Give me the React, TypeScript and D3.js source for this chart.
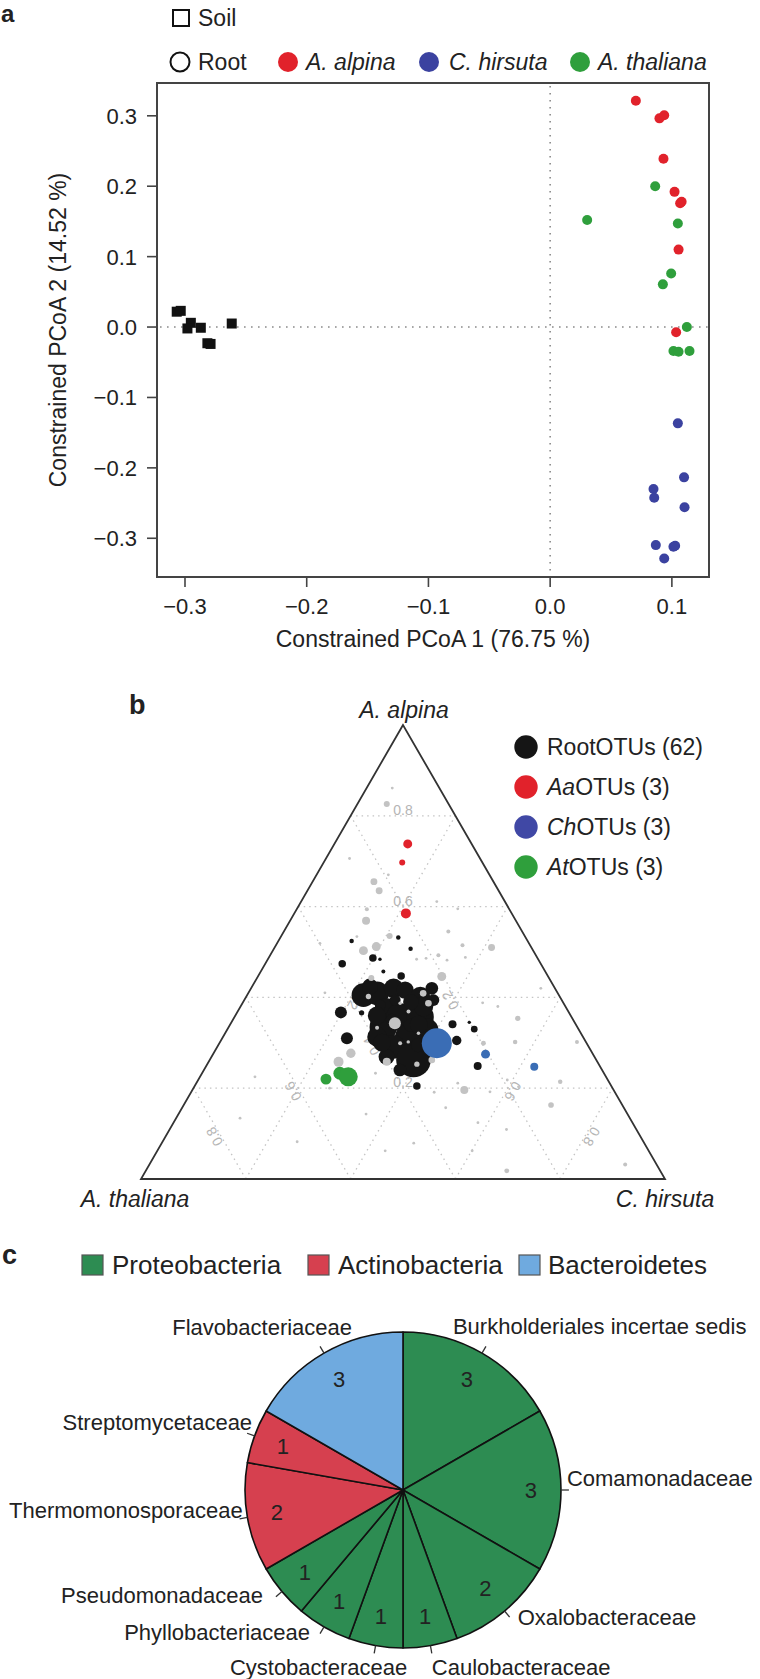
import React from "react";
import * as d3 from "d3";

const FONT = '"Liberation Sans", Arial, Helvetica, sans-serif';

// ---------- Panel a: constrained PCoA ----------
const soilPC1 = [-0.3068, -0.3035, -0.2952, -0.298, -0.287, -0.2816, -0.279, -0.2616];
const soilPC2 = [0.0218, 0.023, 0.006, -0.002, -0.001, -0.023, -0.024, 0.005];
const alpinaPC1 = [0.0704, 0.0898, 0.0937, 0.0931, 0.1022, 0.1068, 0.108, 0.1055, 0.1035];
const alpinaPC2 = [0.3215, 0.2964, 0.3007, 0.239, 0.192, 0.1757, 0.178, 0.11, -0.0075];
const thalianaPC1 = [0.0863, 0.0304, 0.1049, 0.0994, 0.0926, 0.1123, 0.1013, 0.1055, 0.1145];
const thalianaPC2 = [0.2, 0.152, 0.147, 0.076, 0.0606, 0.0, -0.034, -0.035, -0.034];
const hirsutaPC1 = [0.1049, 0.11, 0.0849, 0.0855, 0.1104, 0.0868, 0.1013, 0.1027, 0.0937];
const hirsutaPC2 = [-0.1368, -0.2135, -0.23, -0.2425, -0.256, -0.3097, -0.312, -0.3107, -0.3286];
const xTicks = [-0.3, -0.2, -0.1, 0.0, 0.1];
const yTicks = [-0.3, -0.2, -0.1, 0.0, 0.1, 0.2, 0.3];
const xLabelA = "Constrained PCoA 1 (76.75 %)";
const yLabelA = "Constrained PCoA 2 (14.52 %)";

// ---------- Panel b: ternary plot, [alpina share, hirsuta share, abundance] ----------
const gridValues = [0.2, 0.4, 0.6, 0.8];
const blackOTUs = [
  [0.524, 0.14, 0.5], [0.532, 0.225, 0.5], [0.507, 0.261, 0.5], [0.487, 0.199, 1.4],
  [0.484, 0.214, 0.3], [0.474, 0.147, 1.4], [0.457, 0.234, 0.4], [0.447, 0.273, 1.4],
  [0.367, 0.198, 3.6], [0.31, 0.238, 3.6], [0.366, 0.238, 0.7], [0.341, 0.424, 1.6],
  [0.345, 0.454, 0.3], [0.33, 0.471, 1.1], [0.305, 0.45, 2.2], [0.249, 0.518, 1.6],
  [0.205, 0.424, 1.4], [0.405, 0.222, 14], [0.409, 0.246, 14], [0.42, 0.272, 9.6],
  [0.416, 0.296, 7.4], [0.402, 0.332, 9.6], [0.42, 0.345, 4], [0.394, 0.361, 3.5],
  [0.372, 0.283, 14], [0.335, 0.295, 19], [0.357, 0.316, 19], [0.357, 0.354, 19],
  [0.328, 0.381, 14], [0.313, 0.351, 14], [0.291, 0.336, 14], [0.262, 0.389, 30],
  [0.313, 0.294, 9.6], [0.269, 0.334, 6.3], [0.38, 0.349, 9.6], [0.424, 0.225, 6.3],
  [0.394, 0.288, 3], [0.339, 0.344, 4], [0.295, 0.381, 5], [0.295, 0.404, 4],
  [0.383, 0.265, 3], [0.24, 0.374, 4], [0.35, 0.304, 4], [0.36, 0.27, 8],
  [0.3, 0.31, 8], [0.34, 0.36, 8], [0.39, 0.32, 6],
];
const grayOTUs = [
  [0.861, 0.049, 0.2], [0.826, 0.056, 0.9], [0.706, 0.045, 0.2], [0.67, 0.137, 0.2],
  [0.655, 0.117, 1.2], [0.635, 0.137, 1.2], [0.611, 0.259, 0.2], [0.595, 0.307, 0.2],
  [0.594, 0.134, 0.4], [0.569, 0.145, 1.6], [0.545, 0.314, 0.4], [0.535, 0.207, 0.9],
  [0.519, 0.082, 0.2], [0.534, 0.145, 0.2], [0.515, 0.356, 0.4], [0.51, 0.414, 1.2],
  [0.503, 0.173, 2.0], [0.512, 0.193, 2.0], [0.493, 0.321, 0.4], [0.486, 0.301, 0.2],
  [0.484, 0.284, 0.2], [0.488, 0.375, 0.2], [0.446, 0.351, 2.0], [0.443, 0.218, 0.9],
  [0.343, 0.313, 3.6], [0.402, 0.233, 0.7], [0.387, 0.301, 0.3], [0.369, 0.326, 0.4],
  [0.321, 0.369, 0.3], [0.299, 0.345, 0.4], [0.302, 0.359, 0.3], [0.253, 0.4, 0.7],
  [0.258, 0.34, 1.6], [0.262, 0.424, 1.1], [0.387, 0.355, 1.1], [0.409, 0.334, 1.1],
  [0.333, 0.284, 0.4], [0.277, 0.262, 2.2], [0.258, 0.248, 2.5], [0.196, 0.519, 1.6],
  [0.299, 0.504, 0.6], [0.302, 0.681, 0.4], [0.214, 0.693, 0.5], [0.163, 0.701, 0.8],
  [0.354, 0.542, 0.7], [0.225, 0.105, 0.2], [0.2, 0.26, 0.2], [0.143, 0.358, 0.2],
  [0.233, 0.331, 0.2], [0.191, 0.464, 0.2], [0.157, 0.503, 0.2], [0.211, 0.499, 0.2],
  [0.109, 0.643, 0.2], [0.124, 0.581, 0.2], [0.018, 0.689, 0.6], [0.032, 0.908, 0.4],
  [0.062, 0.601, 0.2], [0.079, 0.481, 0.2], [0.062, 0.435, 0.2], [0.082, 0.257, 0.2],
  [0.134, 0.122, 0.2], [0.203, 0.619, 0.2], [0.192, 0.57, 0.2], [0.388, 0.458, 0.2],
  [0.38, 0.491, 0.2], [0.42, 0.553, 0.2], [0.41, 0.146, 0.2], [0.482, 0.343, 0.2],
  [0.218, 0.59, 0.2], [0.302, 0.563, 0.5],
];
const aaOTUs = [[0.738, 0.14, 2.0], [0.697, 0.15, 0.9], [0.585, 0.213, 2.5]];
const chOTUs = [[0.299, 0.415, 22.5], [0.275, 0.52, 2.0], [0.247, 0.627, 1.6]];
const atOTUs = [[0.22, 0.243, 3.0], [0.233, 0.263, 4.2], [0.225, 0.283, 9.0]];

// ---------- Panel c: pie ----------
const families = [
  "Burkholderiales incertae sedis", "Comamonadaceae", "Oxalobacteraceae", "Caulobacteraceae",
  "Cystobacteraceae", "Phyllobacteriaceae", "Pseudomonadaceae", "Thermomonosporaceae",
  "Streptomycetaceae", "Flavobacteriaceae",
];
const familyCounts = [3, 3, 2, 1, 1, 1, 1, 2, 1, 3];
const familyPhyla = [
  "Proteobacteria", "Proteobacteria", "Proteobacteria", "Proteobacteria", "Proteobacteria",
  "Proteobacteria", "Proteobacteria", "Actinobacteria", "Actinobacteria", "Bacteroidetes",
];
const phyla = ["Proteobacteria", "Actinobacteria", "Bacteroidetes"];

// ---------- layout / style ----------
const C_RED = "#e1222b";
const C_BLUE_A = "#3b42a0";
const C_GREEN = "#2f9f3c";
const C_BLUE_B = "#3a6db5";
const phylumColor = d3.scaleOrdinal<string, string>().domain(phyla).range(["#2d8c52", "#d6404f", "#6faadf"]);
// label layout for pie: [anchor, dx, dy] relative to tick end
const pieLabelLayout: [string, number, number][] = [
  ["start", -33, -20], ["start", -2, -12], ["start", 8, 0], ["start", 0, 14], ["end", 33, 14],
  ["end", -10, -2], ["end", -13, -2], ["end", 3, -9], ["end", 5, -11], ["end", 32, -19],
];

export default function App() {
  // panel a scales
  const xA = d3.scaleLinear().domain([-0.323, 0.1305]).range([157, 709]);
  const yA = d3.scaleLinear().domain([-0.355, 0.3466]).range([577, 83]);
  const [x0, x1] = xA.range();
  const [yb, yt] = yA.range();
  const fmt = (v: number) => (v < 0 ? "\u2212" : "") + Math.abs(v).toFixed(1);

  // ternary scales
  const yTern = d3.scaleLinear().domain([0, 1]).range([1179, 725]);
  const xTern = d3.scaleLinear().domain([-1, 1]).range([141, 665]);
  const tern = (a: number, h: number): [number, number] => {
    const t = 1 - a - h;
    return [xTern(h - t), yTern(a)];
  };
  const rScale = d3.scaleSqrt().domain([0, 25.6]).range([0, 16]);
  const apex = tern(1, 0), bl = tern(0, 0), br = tern(0, 1);

  // pie
  const cx = 403, cy = 1490, R = 158;
  const pie = d3.pie<number>().sort(null).value((d) => d)(familyCounts);
  const arc = d3.arc<d3.PieArcDatum<number>>().innerRadius(0).outerRadius(R);

  const dots = (data: number[][], color: string, key: string) =>
    data.map((d, i) => {
      const [px, py] = tern(d[0], d[1]);
      return <circle key={key + i} cx={px} cy={py} r={rScale(d[2])} fill={color} />;
    });

  const textStyle = { fontFamily: FONT, fill: "#222" } as const;

  const legendA = [
    { label: "A. alpina", color: C_RED, cx: 288, tx: 306 },
    { label: "C. hirsuta", color: C_BLUE_A, cx: 429, tx: 449 },
    { label: "A. thaliana", color: C_GREEN, cx: 580, tx: 598 },
  ];

  const legendB = [
    { pre: "Root", it: "", color: "#151515", n: 62 },
    { pre: "", it: "Aa", color: C_RED, n: 3 },
    { pre: "", it: "Ch", color: "#4048a5", n: 3 },
    { pre: "", it: "At", color: C_GREEN, n: 3 },
  ];

  const legendC = [
    { x: 82, tx: 112 },
    { x: 308, tx: 338 },
    { x: 519, tx: 548 },
  ];

  return (
    <svg width={760} height={1679} style={{ position: "absolute", left: 0, top: 0, background: "#fff" }}>
      <rect x={0} y={0} width={760} height={1679} fill="#fff" />
      {/* ===== Panel a ===== */}
      <text x={1} y={22} fontSize={24} fontWeight="bold" {...textStyle}>a</text>
      <rect x={173} y={10} width={16} height={16} fill="#fff" stroke="#111" strokeWidth={2} />
      <text x={198} y={26} fontSize={23} {...textStyle}>Soil</text>
      <circle cx={180} cy={62} r={9.5} fill="#fff" stroke="#111" strokeWidth={2} />
      <text x={198} y={70} fontSize={23} {...textStyle}>Root</text>
      {legendA.map((l) => (
        <g key={l.label}>
          <circle cx={l.cx} cy={62} r={10} fill={l.color} />
          <text x={l.tx} y={70} fontSize={23} fontStyle="italic" {...textStyle}>{l.label}</text>
        </g>
      ))}

      {/* reference lines */}
      <line x1={xA(0)} x2={xA(0)} y1={yt + 3} y2={yb - 3} stroke="#8a8a8a" strokeWidth={1.6} strokeDasharray="1.6 5.4" />
      <line x1={x0 + 3} x2={x1} y1={yA(0)} y2={yA(0)} stroke="#8a8a8a" strokeWidth={1.6} strokeDasharray="1.6 5.4" />

      {/* points */}
      {soilPC1.map((v, i) => (
        <rect key={"s" + i} x={xA(v) - 5} y={yA(soilPC2[i]) - 5} width={10} height={10} fill="#111" />
      ))}
      {alpinaPC1.map((v, i) => <circle key={"al" + i} cx={xA(v)} cy={yA(alpinaPC2[i])} r={5} fill={C_RED} />)}
      {hirsutaPC1.map((v, i) => <circle key={"hi" + i} cx={xA(v)} cy={yA(hirsutaPC2[i])} r={5} fill={C_BLUE_A} />)}
      {thalianaPC1.map((v, i) => <circle key={"th" + i} cx={xA(v)} cy={yA(thalianaPC2[i])} r={5} fill={C_GREEN} />)}

      {/* frame and axes */}
      <rect x={x0} y={yt} width={x1 - x0} height={yb - yt} fill="none" stroke="#444" strokeWidth={2} />
      {xTicks.map((t) => (
        <g key={"xt" + t}>
          <line x1={xA(t)} x2={xA(t)} y1={yb} y2={yb + 10} stroke="#444" strokeWidth={1.6} />
          <text x={xA(t)} y={614} fontSize={22} textAnchor="middle" {...textStyle}>{fmt(t)}</text>
        </g>
      ))}
      {yTicks.map((t) => (
        <g key={"yt" + t}>
          <line x1={x0 - 10} x2={x0} y1={yA(t)} y2={yA(t)} stroke="#444" strokeWidth={1.6} />
          <text x={137} y={yA(t) + 8} fontSize={22} textAnchor="end" {...textStyle}>{fmt(t)}</text>
        </g>
      ))}
      <text x={(x0 + x1) / 2} y={647} fontSize={23} textAnchor="middle" {...textStyle}>{xLabelA}</text>
      <text transform={`translate(66,${(yt + yb) / 2}) rotate(-90)`} fontSize={23} textAnchor="middle" {...textStyle}>{yLabelA}</text>

      {/* ===== Panel b ===== */}
      <text x={129} y={714} fontSize={27} fontWeight="bold" {...textStyle}>b</text>
      {/* grid */}
      {gridValues.map((v) => {
        const lines: [[number, number], [number, number]][] = [
          [tern(v, 0), tern(v, 1 - v)],
          [tern(0, 1 - v), tern(1 - v, 0)],
          [tern(0, v), tern(1 - v, v)],
        ];
        return lines.map((ln, j) => (
          <line key={"g" + v + j} x1={ln[0][0]} y1={ln[0][1]} x2={ln[1][0]} y2={ln[1][1]}
            stroke="#c4c4c4" strokeWidth={1.3} strokeDasharray="1.5 4" />
        ));
      })}
      {gridValues.map((v) => {
        const m = (1 - v) / 2;
        const pos: [[number, number], number][] = [
          [tern(v, m), 0],
          [tern(m, m), -120],
          [tern(m, v), 120],
        ];
        return pos.map(([p, rot], j) => (
          <text key={"gl" + v + j} transform={`translate(${p[0]},${p[1]}) rotate(${rot})`} y={-1}
            fontSize={14} textAnchor="middle" fill="#b5b5b5" fontFamily={FONT}>{v.toFixed(1)}</text>
        ));
      })}
      {/* triangle */}
      <path d={`M${apex[0]},${apex[1]}L${bl[0]},${bl[1]}L${br[0]},${br[1]}Z`} fill="none" stroke="#333" strokeWidth={1.8} strokeLinejoin="miter" />
      <text x={apex[0] + 1} y={718} fontSize={23} fontStyle="italic" textAnchor="middle" {...textStyle}>A. alpina</text>
      <text x={bl[0] - 6} y={1207} fontSize={23} fontStyle="italic" textAnchor="middle" {...textStyle}>A. thaliana</text>
      <text x={br[0]} y={1207} fontSize={23} fontStyle="italic" textAnchor="middle" {...textStyle}>C. hirsuta</text>

      {/* OTU points */}
      {dots(blackOTUs, "#151515", "bk")}
      {dots(grayOTUs, "#c3c3c3", "gy")}
      {dots(aaOTUs, C_RED, "aa")}
      {dots(chOTUs, C_BLUE_B, "ch")}
      {dots(atOTUs, C_GREEN, "at")}

      {/* legend b */}
      {legendB.map((l, i) => (
        <g key={"lb" + i}>
          <circle cx={526} cy={747 + i * 40} r={11.7} fill={l.color} />
          <text x={547} y={755 + i * 40} fontSize={23} {...textStyle}>
            {l.pre}
            {l.it && <tspan fontStyle="italic">{l.it}</tspan>}
            {`OTUs (${l.n})`}
          </text>
        </g>
      ))}

      {/* ===== Panel c ===== */}
      <text x={2} y={1264} fontSize={27} fontWeight="bold" {...textStyle}>c</text>
      {phyla.map((p, i) => (
        <g key={"lc" + p}>
          <rect x={legendC[i].x} y={1255} width={21} height={20} fill={phylumColor(p)} stroke="#555" strokeWidth={1.2} />
          <text x={legendC[i].tx} y={1274} fontSize={26} {...textStyle}>{p}</text>
        </g>
      ))}
      <g transform={`translate(${cx},${cy})`}>
        {pie.map((s, i) => (
          <path key={"sl" + i} d={arc(s) || ""} fill={phylumColor(familyPhyla[i])} stroke="#111" strokeWidth={1.6} strokeLinejoin="round" />
        ))}
        {pie.map((s, i) => {
          const a = (s.startAngle + s.endAngle) / 2;
          const sx = Math.sin(a), sy = -Math.cos(a);
          const lr = R * 0.81;
          return (
            <text key={"n" + i} x={sx * lr} y={sy * lr + 8} fontSize={22} textAnchor="middle" {...textStyle}>
              {familyCounts[i]}
            </text>
          );
        })}
        {pie.map((s, i) => {
          const a = (s.startAngle + s.endAngle) / 2;
          const sx = Math.sin(a), sy = -Math.cos(a);
          const [anchor, dx, dy] = pieLabelLayout[i];
          const ex = sx * R * 1.05, ey = sy * R * 1.05;
          return (
            <g key={"lab" + i}>
              <line x1={sx * R} y1={sy * R} x2={ex} y2={ey} stroke="#333" strokeWidth={1.3} />
              <text x={ex + dx} y={ey + dy + 8} fontSize={22} textAnchor={anchor as any} {...textStyle}>
                {families[i]}
              </text>
            </g>
          );
        })}
      </g>
    </svg>
  );
}
